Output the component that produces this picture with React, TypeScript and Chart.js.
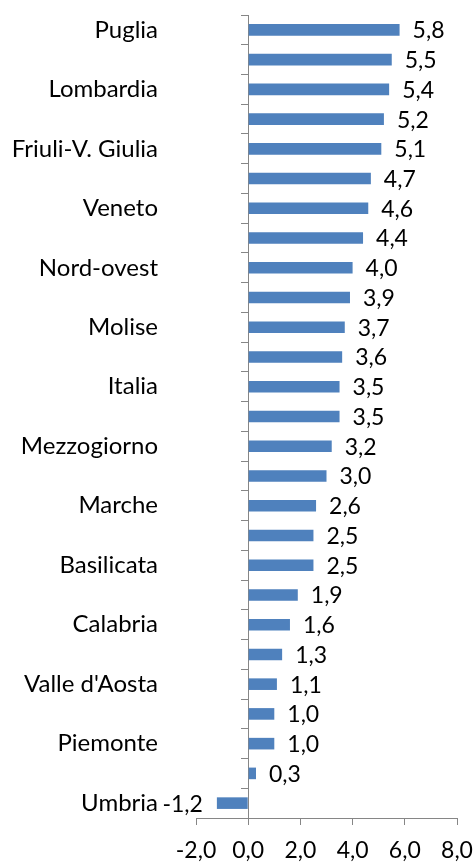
import React, { useEffect, useRef } from "react";
import { Chart, registerables } from "chart.js";

Chart.register(...registerables);

const categories = [
  "Puglia", "Emilia-Romagna", "Lombardia", "Nord-est", "Friuli-V. Giulia",
  "Trentino-A. Adige", "Veneto", "Centro-Nord", "Nord-ovest", "Toscana",
  "Molise", "Sicilia", "Italia", "Centro", "Mezzogiorno", "Campania",
  "Marche", "Lazio", "Basilicata", "Abruzzo", "Calabria", "Sardegna",
  "Valle d'Aosta", "Liguria", "Piemonte", "Bolzano", "Umbria",
];
const values = [
  5.8, 5.5, 5.4, 5.2, 5.1, 4.7, 4.6, 4.4, 4.0, 3.9, 3.7, 3.6, 3.5, 3.5,
  3.2, 3.0, 2.6, 2.5, 2.5, 1.9, 1.6, 1.3, 1.1, 1.0, 1.0, 0.3, -1.2,
];
const xMin = -2;
const xMax = 8;
const xStep = 2;

const FONT = "Lato";
const FONT_SIZE = 23;
const CAT_FONT_SIZE = 24;
const AXIS_COLOR = "#868686";
const BAR_COLOR = "#4F81BD";

const fmt = (v: number) => v.toFixed(1).replace(".", ",");

const valueLabels = {
  id: "valueLabels",
  afterDatasetsDraw(chart: any) {
    const ctx = chart.ctx;
    const meta = chart.getDatasetMeta(0);
    ctx.save();
    ctx.font = `${FONT_SIZE}px ${FONT}`;
    ctx.fillStyle = "#000";
    ctx.textBaseline = "middle";
    meta.data.forEach((bar: any, i: number) => {
      const v = values[i];
      if (v >= 0) {
        ctx.textAlign = "left";
        ctx.fillText(fmt(v), bar.x + 13, bar.y + 1);
      } else {
        ctx.textAlign = "right";
        ctx.fillText(fmt(v), bar.x - 14, bar.y + 1);
      }
    });
    ctx.restore();
  },
};

export default function App() {
  const ref = useRef<HTMLCanvasElement | null>(null);
  useEffect(() => {
    if (!ref.current) return;
    const chart = new Chart(ref.current, {
      type: "bar",
      data: {
        labels: categories,
        datasets: [
          {
            data: values,
            backgroundColor: BAR_COLOR,
            borderWidth: 0,
            categoryPercentage: 1,
            barPercentage: 0.39,
          },
        ],
      },
      options: {
        indexAxis: "y",
        animation: false,
        responsive: true,
        maintainAspectRatio: false,
        layout: { padding: { top: 15, right: 18, bottom: 0, left: 0 } },
        plugins: { legend: { display: false }, tooltip: { enabled: false } },
        scales: {
          x: {
            type: "linear",
            min: xMin,
            max: xMax,
            ticks: {
              stepSize: xStep,
              callback: (v: any) => fmt(Number(v)),
              color: "#000",
              font: { family: FONT, size: FONT_SIZE },
              padding: 12,
              maxRotation: 0,
            },
            grid: {
              drawOnChartArea: false,
              drawTicks: true,
              tickLength: 7,
              color: AXIS_COLOR,
            },
            border: { color: AXIS_COLOR, width: 1 },
            afterFit: (scale: any) => {
              scale.paddingLeft = 0;
              scale.paddingRight = 0;
              scale.height = 45;
            },
          },
          y: {
            type: "category",
            position: "left",
            offset: true,
            ticks: {
              autoSkip: false,
              callback: (_v: any, i: number) => (i % 2 === 0 ? categories[i] : ""),
              color: "#000",
              font: { family: FONT, size: CAT_FONT_SIZE },
              padding: 38,
            },
            grid: { display: false, drawTicks: false },
            border: { display: false },
            afterFit: (scale: any) => {
              scale.width = 196;
              scale.paddingTop = 0;
              scale.paddingBottom = 0;
            },
          },
          y2: {
            type: "category",
            position: { x: 0 } as any,
            offset: true,
            ticks: { display: false },
            grid: {
              offset: true,
              drawOnChartArea: false,
              drawTicks: true,
              tickLength: 7,
              color: AXIS_COLOR,
            },
            border: { color: AXIS_COLOR, width: 1 },
            afterFit: (scale: any) => {
              scale.paddingTop = 0;
              scale.paddingBottom = 0;
            },
          },
        },
      } as any,
      plugins: [valueLabels],
    });
    return () => chart.destroy();
  }, []);
  return (
    <div style={{ position: "fixed", left: 0, top: 0, width: 475, height: 863, background: "#fff" }}>
      <canvas ref={ref} />
    </div>
  );
}
